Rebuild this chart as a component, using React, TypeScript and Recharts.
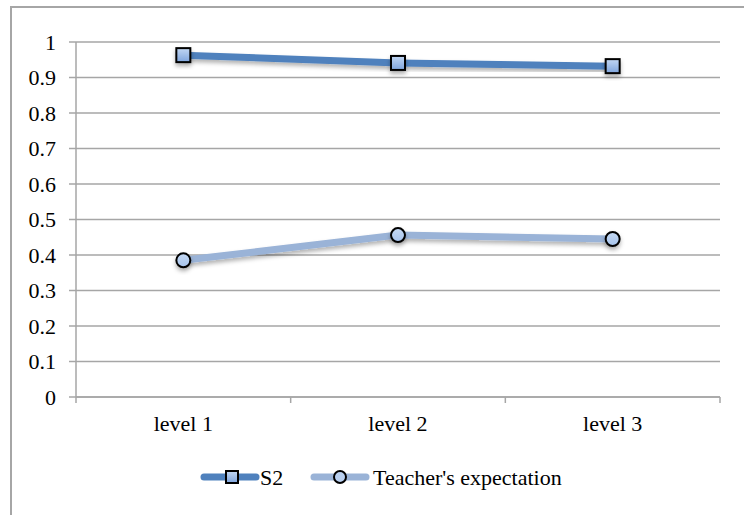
import { LineChart, Line, XAxis, YAxis, CartesianGrid } from 'recharts';

const levels = ['level 1', 'level 2', 'level 3'];
const s2Values = [0.963, 0.941, 0.932];
const teacherValues = [0.385, 0.456, 0.445];
const yTicks = [0, 0.1, 0.2, 0.3, 0.4, 0.5, 0.6, 0.7, 0.8, 0.9, 1];
// x positions: category centres on a 0..3 numeric axis, edges get tick marks
const xTicks = [0, 0.5, 1, 1.5, 2, 2.5, 3];

const S2_COLOR = '#4f81bd';
const TEACHER_COLOR = '#9ab3d7';
const GRID = '#a6a6a6';
const FONT = '"Liberation Serif", "Times New Roman", serif';
const FS = 22;

const data = levels.map((name, i) => ({
  x: i + 0.5,
  name,
  s2: s2Values[i],
  teacher: teacherValues[i],
}));

const SquareDot = (props: any) => {
  const { cx, cy, index } = props;
  if (cx == null || cy == null) return null;
  return (
    <rect
      key={'sq' + index}
      x={cx - 7}
      y={cy - 7}
      width={14}
      height={14}
      fill="url(#sqFill)"
      stroke="#000"
      strokeWidth={2}
      filter="url(#shadow)"
    />
  );
};

const CircleDot = (props: any) => {
  const { cx, cy, index } = props;
  if (cx == null || cy == null) return null;
  return (
    <circle
      key={'ci' + index}
      cx={cx}
      cy={cy}
      r={7}
      fill="url(#ciFill)"
      stroke="#000"
      strokeWidth={2}
      filter="url(#shadow)"
    />
  );
};

const XTick = (props: any) => {
  const { x, y, payload } = props;
  const v = payload.value;
  if (Number.isInteger(v)) {
    return <line x1={x} x2={x} y1={y} y2={y + 6} stroke={GRID} strokeWidth={1.5} />;
  }
  const idx = Math.floor(v);
  return (
    <text x={x} y={y + 34} textAnchor="middle" fontFamily={FONT} fontSize={FS} fill="#000">
      {levels[idx]}
    </text>
  );
};

function LegendBox() {
  return (
    <svg
      width={420}
      height={34}
      style={{ position: 'absolute', left: 190, top: 460 }}
    >
      <line x1={14} x2={66} y1={17} y2={17} stroke={S2_COLOR} strokeWidth={7} strokeLinecap="round" />
      <rect x={36} y={11} width={12} height={12} fill="url(#sqFillL)" stroke="#000" strokeWidth={2} />
      <text x={70} y={25} fontFamily={FONT} fontSize={FS} fill="#000">S2</text>
      <line x1={124} x2={176} y1={17} y2={17} stroke={TEACHER_COLOR} strokeWidth={7} strokeLinecap="round" />
      <circle cx={150} cy={17} r={6} fill="#b9d0f0" stroke="#000" strokeWidth={2} />
      <text x={183} y={25} fontFamily={FONT} fontSize={FS} fill="#000">Teacher's expectation</text>
      <defs>
        <linearGradient id="sqFillL" x1="0" y1="0" x2="0" y2="1">
          <stop offset="0%" stopColor="#c2d7f3" />
          <stop offset="100%" stopColor="#7ea4dc" />
        </linearGradient>
      </defs>
    </svg>
  );
}

export default function App() {
  return (
    <div style={{ position: 'absolute', left: 0, top: 0, width: 744, height: 515, background: '#fff', overflow: 'hidden' }}>
      <div
        style={{
          position: 'absolute',
          left: 10,
          top: 6,
          width: 760,
          height: 540,
          borderLeft: `2px solid ${GRID}`,
          borderTop: `2px solid ${GRID}`,
        }}
      />
      <div style={{ position: 'absolute', left: 0, top: 0 }}>
        <LineChart width={744} height={515} data={data} margin={{ top: 42, right: 24, left: 0, bottom: 88 }}>
          <defs>
            <linearGradient id="sqFill" x1="0" y1="0" x2="0" y2="1">
              <stop offset="0%" stopColor="#c2d7f3" />
              <stop offset="100%" stopColor="#7ea4dc" />
            </linearGradient>
            <linearGradient id="ciFill" x1="0" y1="0" x2="0" y2="1">
              <stop offset="0%" stopColor="#c6daf4" />
              <stop offset="100%" stopColor="#a6c3ec" />
            </linearGradient>
            <filter id="shadow" x="-50%" y="-50%" width="200%" height="200%">
              <feDropShadow dx="0" dy="3" stdDeviation="2" floodColor="#000" floodOpacity="0.3" />
            </filter>
          </defs>
          <CartesianGrid vertical={false} stroke={GRID} strokeWidth={1.5} />
          <XAxis
            dataKey="x"
            type="number"
            domain={[0, 3]}
            ticks={xTicks}
            interval={0}
            height={30}
            axisLine={{ stroke: GRID, strokeWidth: 1.5 }}
            tickLine={false}
            tickSize={0}
            tickMargin={0}
            tick={<XTick />}
          />
          <YAxis
            domain={[0, 1]}
            ticks={yTicks}
            interval={0}
            width={76}
            tickSize={7}
            tickMargin={13}
            axisLine={{ stroke: GRID, strokeWidth: 1.5 }}
            tickLine={{ stroke: GRID, strokeWidth: 1.5 }}
            tick={{ fontFamily: FONT, fontSize: FS, fill: '#000' }}
          />
          <Line
            dataKey="teacher"
            type="linear"
            stroke={TEACHER_COLOR}
            strokeWidth={7}
            dot={<CircleDot />}
            activeDot={false}
            isAnimationActive={false}
            filter="url(#shadow)"
          />
          <Line
            dataKey="s2"
            type="linear"
            stroke={S2_COLOR}
            strokeWidth={7}
            dot={<SquareDot />}
            activeDot={false}
            isAnimationActive={false}
            filter="url(#shadow)"
          />
        </LineChart>
      </div>
      <LegendBox />
    </div>
  );
}
